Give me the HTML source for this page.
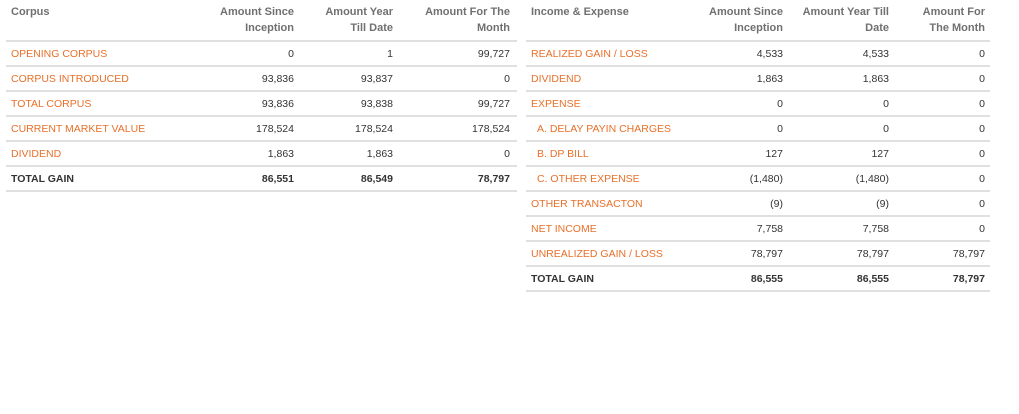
<!DOCTYPE html>
<html><head><meta charset="utf-8"><style>
body{margin:0;width:1019px;height:414px;background:#fff;font-family:"Liberation Sans",Arial,sans-serif;position:relative;overflow:hidden}
.h{position:absolute;font-size:11px;font-weight:bold;color:#707070;line-height:16px}
.r{position:absolute;font-size:10.5px;line-height:14px;white-space:nowrap}
.o{color:#e8702a}.d{color:#333}.b{font-weight:bold;color:#333}
.ln{position:absolute;height:2px;background:#e0e0e0}
</style></head><body>
<div id="c"></div>
<script>
var c=document.getElementById('c'),h='';
function hd(x,y,t,right){h+='<div class="h" style="'+(right?'right:'+(1019-x)+'px;text-align:right':'left:'+x+'px')+';top:'+y+'px">'+t+'</div>';}
function tx(x,y,t,cls,right){h+='<div class="r '+cls+'" style="'+(right?'right:'+(1019-x)+'px':'left:'+x+'px')+';top:'+y+'px">'+t+'</div>';}
function ln(x1,x2,y){h+='<div class="ln" style="left:'+x1+'px;width:'+(x2-x1)+'px;top:'+y+'px"></div>';}
hd(11,4,'Corpus');
hd(294,4,'Amount Since<br>Inception',1);hd(393,4,'Amount Year<br>Till Date',1);hd(510,4,'Amount For The<br>Month',1);
ln(6,517,40);
var L=[['OPENING CORPUS','0','1','99,727'],['CORPUS INTRODUCED','93,836','93,837','0'],['TOTAL CORPUS','93,836','93,838','99,727'],['CURRENT MARKET VALUE','178,524','178,524','178,524'],['DIVIDEND','1,863','1,863','0'],['TOTAL GAIN','86,551','86,549','78,797']];
L.forEach(function(r,i){var y=47+i*25,last=i==5;tx(11,y,r[0],last?'b':'o');tx(294,y,r[1],last?'b':'d',1);tx(393,y,r[2],last?'b':'d',1);tx(510,y,r[3],last?'b':'d',1);ln(6,517,65+i*25);});
hd(531,4,'Income &amp; Expense');
hd(783,4,'Amount Since<br>Inception',1);hd(889,4,'Amount Year Till<br>Date',1);hd(985,4,'Amount For<br>The Month',1);
ln(526,990,40);
var R=[['REALIZED GAIN / LOSS','4,533','4,533','0'],['DIVIDEND','1,863','1,863','0'],['EXPENSE','0','0','0'],['A. DELAY PAYIN CHARGES','0','0','0',1],['B. DP BILL','127','127','0',1],['C. OTHER EXPENSE','(1,480)','(1,480)','0',1],['OTHER TRANSACTON','(9)','(9)','0'],['NET INCOME','7,758','7,758','0'],['UNREALIZED GAIN / LOSS','78,797','78,797','78,797'],['TOTAL GAIN','86,555','86,555','78,797']];
R.forEach(function(r,i){var y=47+i*25,last=i==9;tx(r[4]?537:531,y,r[0],last?'b':'o');tx(783,y,r[1],last?'b':'d',1);tx(889,y,r[2],last?'b':'d',1);tx(985,y,r[3],last?'b':'d',1);ln(526,990,65+i*25);});
c.innerHTML=h;
</script>
</body></html>
